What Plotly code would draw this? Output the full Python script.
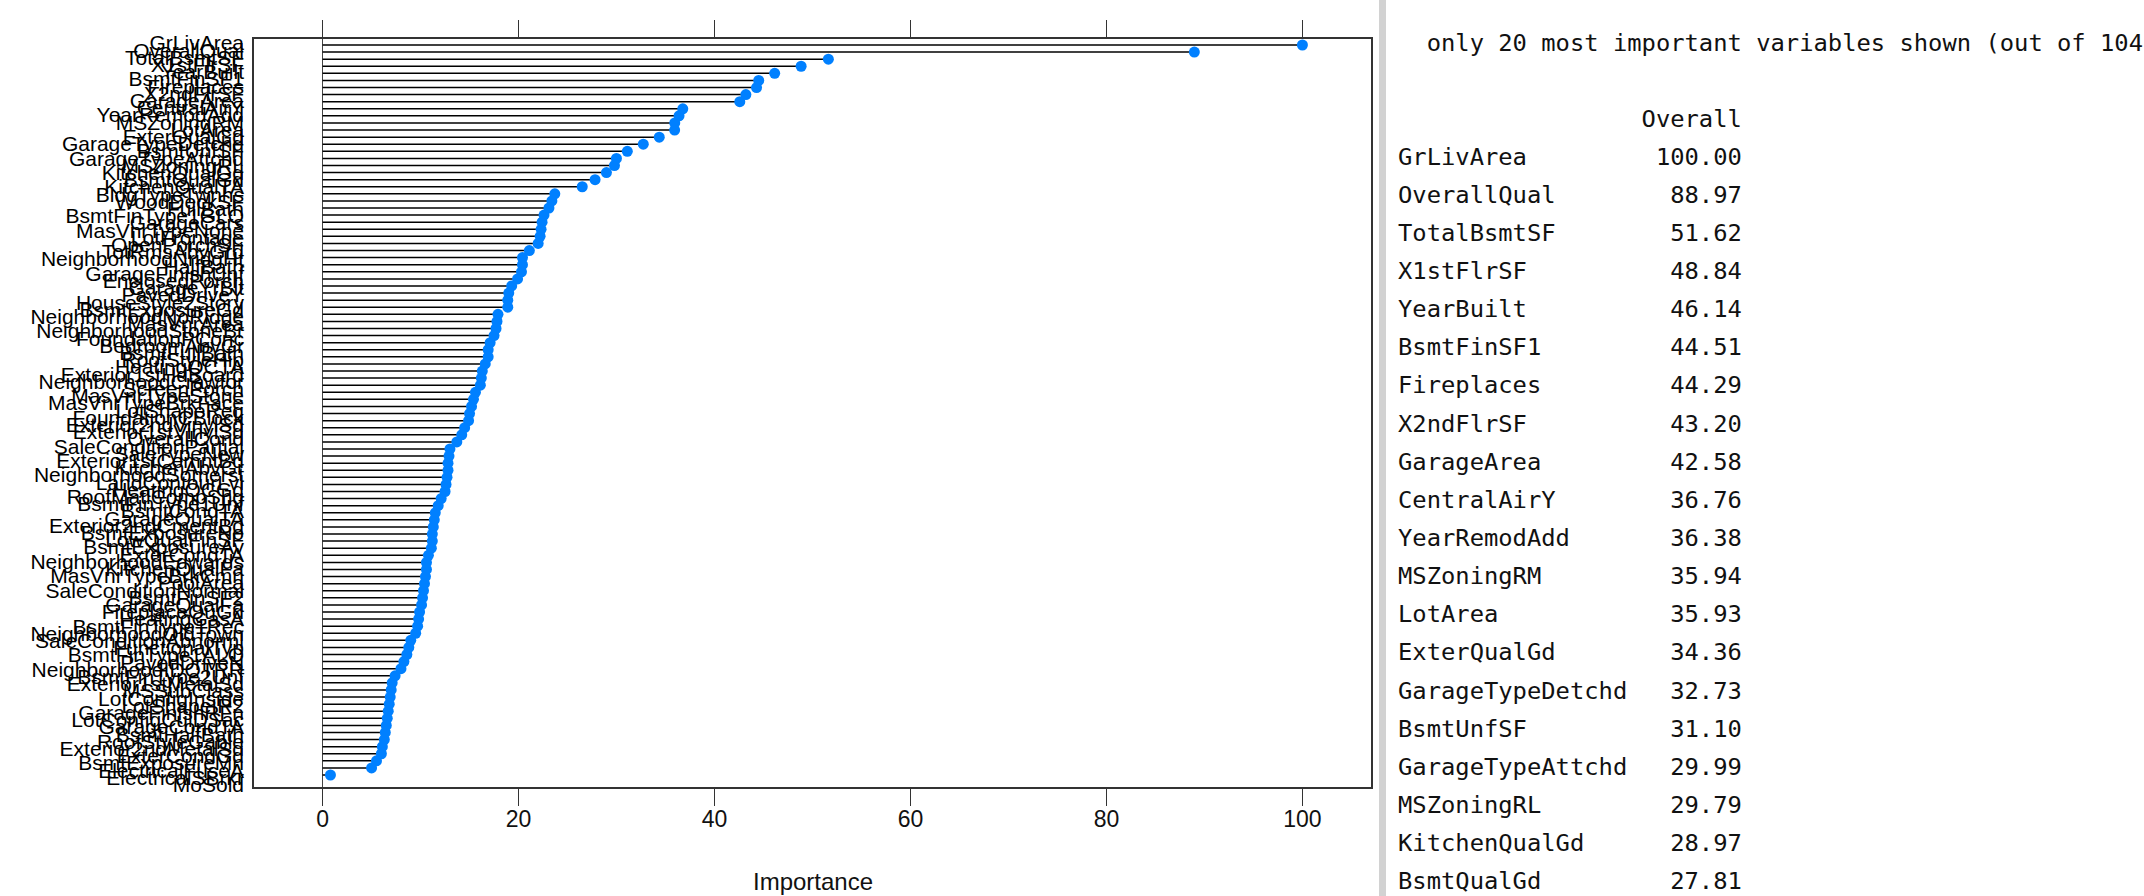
import plotly.graph_objects as go

# ---------------- data ----------------
var_names = [
    "GrLivArea", "OverallQual", "TotalBsmtSF", "X1stFlrSF", "YearBuilt",
    "BsmtFinSF1", "Fireplaces", "X2ndFlrSF", "GarageArea", "CentralAirY",
    "YearRemodAdd", "MSZoningRM", "LotArea", "ExterQualGd", "GarageTypeDetchd",
    "BsmtUnfSF", "GarageTypeAttchd", "MSZoningRL", "KitchenQualGd", "BsmtQualGd",
    "KitchenQualTA", "BldgTypeTwnhs", "WoodDeckSF", "FullBath", "BsmtFinType1GLQ",
    "GarageCars", "MasVnrTypeNone", "LotFrontage", "OpenPorchSF", "TotRmsAbvGrd",
    "NeighborhoodNridgHt", "HalfBath", "GarageFinishUnf", "EnclosedPorch", "GarageYrBlt",
    "PavedDriveY", "HouseStyle2Story", "BsmtExposureGd", "NeighborhoodNoRidge", "MasVnrArea",
    "NeighborhoodStoneBr", "FoundationPConc", "BedroomAbvGr", "BsmtFullBath", "RoofStyleHip",
    "HeatingQCTA", "Exterior1stHdBoard", "NeighborhoodCrawfor", "ScreenPorch", "MasVnrTypeStone",
    "MasVnrTypeBrkFace", "LotShapeReg", "FoundationCBlock", "Exterior2ndVinylSd", "Exterior1stVinylSd",
    "OverallCond", "SaleConditionPartial", "SaleTypeNew", "Exterior1stCemntBd", "KitchenAbvGr",
    "NeighborhoodSomerst", "LandContourLvl", "HeatingQCGd", "RoofMatlCompShg", "BsmtFinType1Unf",
    "BsmtCondTA", "GarageQualTA", "Exterior2ndCmentBd", "BsmtExposureNo", "LowQualFinSF",
    "BsmtExposureAv", "ExterCondTA", "NeighborhoodEdwards", "KitchenQualFa", "MasVnrTypeBrkCmn",
    "PoolArea", "SaleConditionNormal", "BsmtFinSF2", "GarageQualFa", "FireplaceQuGd",
    "HeatingGasA", "BsmtFinType1Rec", "NeighborhoodOldTown", "SaleConditionAbnorml", "FunctionalTyp",
    "BsmtFinType1ALQ", "PavedDriveN", "NeighborhoodIDOTRR", "BsmtFinType2Unf", "Exterior1stMetalSd",
    "MSSubClass", "LotConfigInside", "LotShapeIR2", "GarageFinishRFn", "LotConfigCulDSac",
    "GarageCondTA", "BsmtHalfBath", "RoofStyleGable", "Exterior2ndMetalSd", "ExterCondGd",
    "BsmtExposureMn", "ElectricalFuseA", "ElectricalSBrkr", "MoSold",
]
importance = [
    100.00, 88.97, 51.62, 48.84, 46.14, 44.51, 44.29, 43.20, 42.58, 36.76,
    36.38, 35.94, 35.93, 34.36, 32.73, 31.10, 29.99, 29.79, 28.97, 27.81,
    26.5, 23.7, 23.4, 23.1, 22.6, 22.4, 22.3, 22.2, 22.0, 21.1,
    20.4, 20.4, 20.3, 19.9, 19.3, 19.0, 18.9, 18.9, 17.9, 17.8,
    17.7, 17.5, 17.1, 16.9, 16.9, 16.6, 16.3, 16.2, 16.1, 15.6,
    15.4, 15.2, 15.0, 14.9, 14.5, 14.2, 13.7, 13.0, 12.9, 12.8,
    12.8, 12.7, 12.6, 12.5, 12.1, 11.8, 11.5, 11.4, 11.3, 11.2,
    11.2, 11.1, 10.8, 10.6, 10.6, 10.5, 10.4, 10.3, 10.2, 10.1,
    9.9, 9.8, 9.7, 9.5, 9.0, 8.8, 8.6, 8.3, 8.0, 7.4,
    7.1, 7.0, 6.9, 6.8, 6.7, 6.6, 6.5, 6.4, 6.3, 6.1,
    6.0, 5.5, 5.0, 0.8,
]
x_ticks = [0, 20, 40, 60, 80, 100]
top_n = 20
console_title = "only 20 most important variables shown (out of 104)"
column_header = "Overall"

assert len(var_names) == len(importance) == 104

# ---------------- geometry helpers ----------------
W, H = 2144, 896
L, R, T, B = 254, 1371, 39, 787
n = len(var_names)
rows = list(range(1, n + 1))
row_px = 730 / 103.0          # pixel spacing of rows
row1_px = 45.0                # pixel of first row


def px_x(p):
    return (p - L) / (R - L)


def px_y(p):
    return (B - p) / (B - T)


y_top = 1 - (row1_px - T) / row_px
y_bot = n + (B - (row1_px + (n - 1) * row_px)) / row_px

# label positions (labels are slightly more spread than dots in the reference)
label_vals = [1 + ((43 + (i - 1) * 7.2) - row1_px) / row_px for i in rows]

# ---------------- traces ----------------
line_x, line_y = [], []
for i, v in zip(rows, importance):
    line_x += [0, v, None]
    line_y += [i, i, None]

fig = go.Figure()
fig.add_trace(go.Scatter(
    x=line_x, y=line_y, mode="lines",
    line=dict(color="#000000", width=1.5),
    hoverinfo="skip", showlegend=False,
))
fig.add_trace(go.Scatter(
    x=importance, y=rows, mode="markers",
    marker=dict(color="#0080FF", size=11, line=dict(width=0)),
    text=var_names, hovertemplate="%{text}: %{x}<extra></extra>",
    showlegend=False,
))

sans = "Liberation Sans, Arial, sans-serif"
mono = "DejaVu Sans Mono, Liberation Mono, monospace"

fig.update_xaxes(
    range=[-7.0, 107.0], tickvals=x_ticks, ticktext=[str(t) for t in x_ticks],
    ticks="outside", ticklen=17, tickwidth=1.2, tickcolor="#333",
    showline=True, linecolor="#333", linewidth=1.5, mirror="ticks",
    showgrid=False, zeroline=True, zerolinecolor="#444", zerolinewidth=1,
    tickfont=dict(family=sans, size=23, color="#111"),
    ticklabelstandoff=-6, automargin=False,
)
fig.update_yaxes(
    range=[y_bot, y_top], tickmode="array", tickvals=label_vals, ticktext=var_names,
    ticks="", showline=True, linecolor="#333", linewidth=1.5, mirror=True,
    showgrid=False, zeroline=False,
    tickfont=dict(family=sans, size=21, color="#000"),
    ticklabelstandoff=4, automargin=False,
)

annotations = [dict(
    text="Importance", xref="paper", yref="paper", x=0.5, y=px_y(866),
    xanchor="center", yanchor="top", showarrow=False,
    font=dict(family=sans, size=24, color="#111"),
)]

# console printout on the right
console_lines = [("  " + console_title, 43.0),
                 (" " * 17 + column_header, 118.5)]
name_w = max(len(s) for s in var_names[:top_n])
for k in range(top_n):
    line = var_names[k].ljust(name_w) + " " + ("%.2f" % importance[k]).rjust(len(column_header))
    console_lines.append((line, 156.5 + k * 38.15))
for text, yc in console_lines:
    annotations.append(dict(
        text=text.replace(" ", "&nbsp;"), xref="paper", yref="paper",
        x=px_x(1396), y=px_y(yc), xanchor="left", yanchor="middle",
        showarrow=False, align="left",
        font=dict(family=mono, size=23.8, color="#111"),
    ))

shapes = [dict(
    type="rect", xref="paper", yref="paper",
    x0=px_x(1379), x1=px_x(1386), y0=px_y(H + 5), y1=px_y(-5),
    fillcolor="#d2d2d2", line=dict(width=0), layer="above",
)]

fig.update_layout(
    width=W, height=H, autosize=False,
    margin=dict(l=L, r=W - R, t=T, b=H - B, pad=0),
    paper_bgcolor="white", plot_bgcolor="white",
    annotations=annotations, shapes=shapes, showlegend=False,
)

fig.write_html(
    "out.html",
    config={"displayModeBar": False},
    post_script="document.body.style.margin='0px';document.body.style.padding='0px';",
)
